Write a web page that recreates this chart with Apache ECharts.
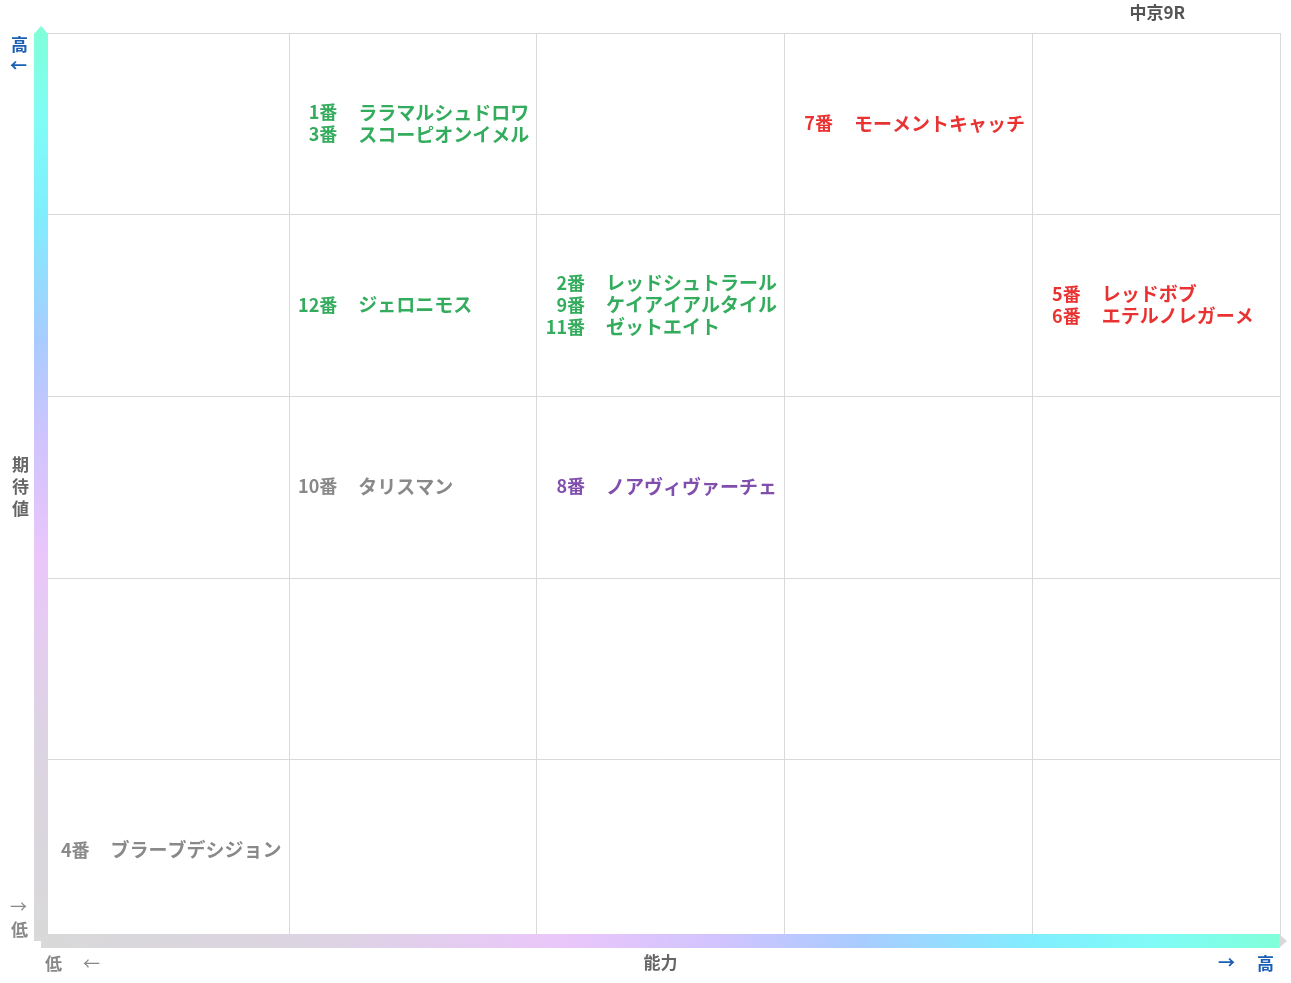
<!DOCTYPE html>
<html>
<head>
<meta charset="utf-8">
<script src="https://cdn.jsdelivr.net/npm/echarts@6/dist/echarts.min.js"></script>
<style>
html,body{margin:0;padding:0;background:#fff;}
#chart{width:1291px;height:983px;}
</style>
</head>
<body>
<div id="chart"></div>
<script>
// ---- data ----
const raceTitle = '中京9R';
const xAxisName = '能力';
const yAxisName = '期待値';
const lowLabel = '低';
const highLabel = '高';
const horseNumbers = [1, 3, 7, 12, 2, 9, 11, 5, 6, 10, 8, 4];
const horseNames = ['ララマルシュドロワ', 'スコーピオンイメル', 'モーメントキャッチ', 'ジェロニモス',
  'レッドシュトラール', 'ケイアイアルタイル', 'ゼットエイト', 'レッドボブ', 'エテルノレガーメ',
  'タリスマン', 'ノアヴィヴァーチェ', 'ブラーブデシジョン'];
const abilityLevel = [2, 2, 4, 2, 3, 3, 3, 5, 5, 2, 3, 1];   // 1..5 column
const expectLevel  = [5, 5, 5, 4, 4, 4, 4, 4, 4, 3, 3, 1];   // 1..5 row
const markType     = ['g', 'g', 'r', 'g', 'g', 'g', 'g', 'r', 'r', 'k', 'p', 'k'];

// ---- styles ----
const FONT = '"Noto Sans CJK JP", "Noto Sans", sans-serif';
const markColors = { g: '#009834', r: '#e40000', p: '#62229a', k: '#6c6c6c' };
const richNum = {}, richName = {};
Object.keys(markColors).forEach(k => {
  richNum[k] = { color: markColors[k], fontFamily: FONT, fontWeight: 'bold', fontSize: 18, lineHeight: 22 };
  richName[k] = { color: markColors[k], fontFamily: FONT, fontWeight: 'bold', fontSize: 19, lineHeight: 22 };
});

// group horses per cell
const cells = {};
const cellOrder = [];
horseNumbers.forEach((n, i) => {
  const key = abilityLevel[i] + '_' + expectLevel[i];
  if (!cells[key]) { cells[key] = { a: abilityLevel[i], e: expectLevel[i], items: [] }; cellOrder.push(key); }
  cells[key].items.push(i);
});
const numData = [], nameData = [];
cellOrder.forEach(key => {
  const c = cells[key];
  const x = c.a - 1, y = c.e - 0.5;
  numData.push({ value: [x, y], lines: c.items.map(i => '{' + markType[i] + '|' + horseNumbers[i] + '番}').join('\n') });
  nameData.push({ value: [x, y], lines: c.items.map(i => '{' + markType[i] + '|' + horseNames[i] + '}').join('\n') });
});

const stops = [
  { offset: 0, color: '#d9d9d9' },
  { offset: 0.22, color: '#dcd4e2' },
  { offset: 0.42, color: '#eac6fa' },
  { offset: 0.55, color: '#d0c4ff' },
  { offset: 0.66, color: '#a8ccff' },
  { offset: 0.8, color: '#80eeff' },
  { offset: 0.9, color: '#80fcf6' },
  { offset: 1, color: '#80ffd8' }
];

const chart = echarts.init(document.getElementById('chart'));
chart.setOption({
  backgroundColor: '#ffffff',
  animation: false,
  grid: { left: 41, right: 11, top: 33, bottom: 42, outerBoundsMode: 'none', containLabel: false },
  xAxis: {
    type: 'value', min: 0, max: 5, interval: 1,
    name: xAxisName, nameLocation: 'middle', nameGap: 13,
    nameTextStyle: { color: '#666666', fontFamily: FONT, fontWeight: 'bold', fontSize: 17 },
    axisLabel: { show: false }, axisTick: { show: false },
    axisLine: {
      show: true, symbol: ['none', 'triangle'], symbolSize: [14, 8], symbolOffset: [0, 3],
      lineStyle: { width: 14, cap: 'butt', color: new echarts.graphic.LinearGradient(41, 0, 1284, 0, stops, true) }
    },
    splitLine: { show: true, lineStyle: { color: '#d9d9d9', width: 1 } }
  },
  yAxis: {
    type: 'value', min: 0, max: 5, interval: 1,
    name: yAxisName.split('').join('\n'), nameLocation: 'middle', nameGap: 12, nameRotate: 0,
    nameTextStyle: { color: '#666666', fontFamily: FONT, fontWeight: 'bold', fontSize: 17, lineHeight: 22 },
    axisLabel: { show: false }, axisTick: { show: false },
    axisLine: {
      show: true, symbol: ['none', 'triangle'], symbolSize: [14, 8], symbolOffset: [0, 3],
      lineStyle: { width: 14, cap: 'butt', color: new echarts.graphic.LinearGradient(0, 941, 0, 29, stops, true) }
    },
    splitLine: { show: true, lineStyle: { color: '#d9d9d9', width: 1 } }
  },
  graphic: [
    { type: 'text', right: 106, top: 4, style: { text: raceTitle, fill: '#555555', font: 'bold 17px ' + FONT } },
    { type: 'text', left: 11, top: 36, style: { text: highLabel, fill: '#1a5fb4', font: 'bold 17px ' + FONT } },
    { type: 'text', left: 10, top: 57, style: { text: '←', fill: '#1a5fb4', font: 'bold 17px ' + FONT } },
    { type: 'text', left: 10, top: 898, style: { text: '→', fill: '#888888', font: '17px ' + FONT } },
    { type: 'text', left: 11, top: 921, style: { text: lowLabel, fill: '#888888', font: 'bold 17px ' + FONT } },
    { type: 'text', left: 45, top: 955, style: { text: lowLabel, fill: '#888888', font: 'bold 17px ' + FONT } },
    { type: 'text', left: 83, top: 955, style: { text: '←', fill: '#888888', font: '17px ' + FONT } },
    { type: 'text', left: 1218, top: 954, style: { text: '→', fill: '#1a5fb4', font: 'bold 17px ' + FONT } },
    { type: 'text', left: 1257, top: 955, style: { text: highLabel, fill: '#1a5fb4', font: 'bold 17px ' + FONT } }
  ],
  series: [
    {
      type: 'scatter', data: numData, symbol: 'circle', symbolSize: 1,
      itemStyle: { color: 'rgba(0,0,0,0)' }, silent: true,
      label: {
        show: true, position: [49, 0], align: 'right', verticalAlign: 'middle',
        formatter: p => p.data.lines, rich: richNum
      }
    },
    {
      type: 'scatter', data: nameData, symbol: 'circle', symbolSize: 1,
      itemStyle: { color: 'rgba(0,0,0,0)' }, silent: true,
      label: {
        show: true, position: [70, 0], align: 'left', verticalAlign: 'middle',
        formatter: p => p.data.lines, rich: richName
      }
    }
  ]
});
</script>
</body>
</html>
